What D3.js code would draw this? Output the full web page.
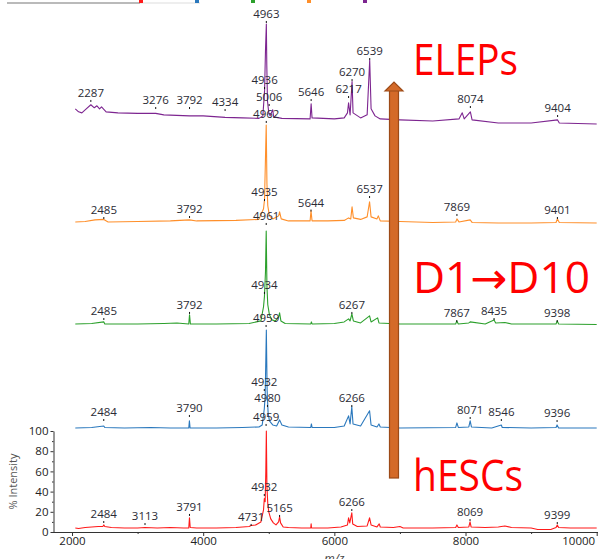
<!DOCTYPE html>
<html lang="en">
<head>
<meta charset="UTF-8">
<title>Spectra: hESCs to ELEPs</title>
<script src="https://d3js.org/d3.v7.min.js"></script>
<style>
  body { margin: 0; background: #fff; }
  svg { display: block; font-family: "Open Sans", "DejaVu Sans", sans-serif; }
  .pk { font-size: 11.5px; fill: #2b2b35; }
  .axis text { font-size: 11.5px; fill: #222; font-family: "Open Sans", sans-serif; }
  .axis line, .axis path { stroke: #333; }
</style>
</head>
<body>
<div id="chart"></div>
<script>
const width = 598;
const height = 559;

// one colour per trace, bottom to top
const names = ["hESCs", "D1", "D4", "D10", "ELEPs"];
const colors = ["#ff1a1a", "#2a78bd", "#2ca02c", "#ff8f2a", "#7d2590"];
// each trace sits this many % above the one below
const offsets = [0, 100, 203, 305, 407];

// [m/z, % intensity]
const redPts = [[2050,4],[2100,3.5],[2200,4.5],[2300,5],[2400,5.5],[2470,5.5],[2484,7],[2500,5.5],[2600,4.5],[2800,4],[3000,4],[3113,4.5],[3300,4],[3500,4.5],[3700,4],[3780,4],[3791,14],[3802,4.5],[3900,4],[4200,4],[4500,4.5],[4700,5.5],[4731,6.5],[4800,7],[4880,10],[4920,22],[4932,33],[4945,30],[4955,60],[4963,100],[4972,45],[4985,28],[5000,20],[5030,13],[5070,9],[5110,7],[5150,10],[5165,15],[5180,9],[5220,5],[5300,4.5],[5500,4],[5640,4],[5646,8],[5652,4],[5900,4],[6100,5],[6200,7],[6217,14],[6235,9],[6266,19],[6280,8],[6350,5.5],[6500,6],[6537,14],[6560,7],[6650,5],[6684,8],[6700,5],[6900,4.5],[7000,5.5],[7050,4],[7500,4],[7850,4.5],[7869,7],[7890,4.5],[8050,5],[8069,10],[8085,5],[8300,4.5],[8500,5],[8546,5.5],[8600,6],[8700,4.5],[9000,4],[9100,2.5],[9300,2.5],[9380,4.5],[9399,7],[9420,4.5],[9600,4],[10000,4]];
const bluePts = [[2050,3],[2300,3.5],[2484,5],[2500,3.5],[2800,3],[3200,3.5],[3500,3],[3780,3],[3790,10],[3800,3],[4200,3],[4600,3.5],[4850,4],[4900,6],[4932,22],[4945,35],[4955,70],[4963,100],[4975,40],[4990,18],[5010,10],[5060,6],[5120,5],[5165,11],[5200,6],[5300,4],[5640,3.5],[5650,7],[5660,3.5],[6000,3.5],[6150,5],[6217,15],[6240,7],[6266,24],[6285,7],[6400,5],[6537,20],[6560,6],[6650,4],[6680,7],[6700,4],[7000,3],[7850,3.5],[7869,8],[7890,3.5],[8050,4],[8071,10],[8090,4],[8400,3],[8546,6],[8560,3.5],[9000,3],[9380,3.5],[9396,6],[9420,3],[10000,3]];
const greenPts = [[2050,3],[2300,3.5],[2485,5],[2500,3],[3000,3],[3400,3.5],[3600,4],[3780,3],[3792,12],[3805,3],[4200,3],[4700,3.5],[4880,6],[4920,20],[4934,30],[4950,55],[4961,95],[4972,40],[4985,22],[5010,12],[5050,7],[5100,6],[5150,10],[5165,14],[5185,6],[5250,3.5],[5640,3],[5650,5],[5660,3],[6000,3.5],[6150,5],[6217,8],[6240,6],[6267,13],[6290,6],[6400,4],[6537,11],[6560,5],[6660,9],[6680,4],[7000,3],[7850,3],[7867,6],[7890,3],[8050,4],[8071,5],[8300,3],[8435,7],[8460,4],[8600,4.5],[8700,3],[9000,3],[9380,3],[9398,6],[9420,3],[10000,2.5]];
const orangePts = [[2050,2],[2200,2.5],[2350,4],[2485,4.5],[2550,2],[3000,2.5],[3500,3],[3792,4],[3900,3],[4500,3.5],[4850,4.5],[4920,15],[4935,24],[4948,60],[4961,98],[4972,40],[4985,18],[5010,8],[5060,5],[5150,8],[5165,12],[5190,5],[5300,3],[5630,3],[5644,13],[5660,3],[5900,3],[6150,3.5],[6217,6],[6250,5],[6270,17],[6290,6],[6400,4.5],[6500,7],[6537,22],[6560,7],[6650,5],[6670,8],[6700,3],[7000,2.5],[7500,1.5],[7850,2],[7869,5],[7900,2],[8071,4],[8100,1.5],[8500,1],[9000,1],[9380,1.5],[9401,5],[9430,1.5],[10000,1]];
const purplePts = [[2050,12],[2100,9],[2150,8],[2200,11],[2287,16],[2340,13],[2380,15],[2420,12],[2450,14],[2520,9],[2700,8],[3000,7.5],[3276,7.5],[3400,6],[3792,5],[4000,5],[4334,3.5],[4600,3],[4850,2.5],[4910,5],[4936,30],[4950,70],[4963,96],[4970,55],[4980,20],[5000,8],[5020,5],[5060,11],[5075,4],[5200,2.5],[5630,2],[5646,17],[5660,3],[6000,2],[6150,3],[6200,8],[6217,18],[6240,6],[6270,39],[6285,8],[6400,3],[6500,6],[6539,60],[6560,12],[6620,5],[6700,2],[7000,1],[7500,0],[7900,2],[7950,8],[7980,2],[8074,9],[8100,1],[8500,-2],[9000,-2],[9404,1],[9430,-2],[10000,-3]];
const traces = [redPts, bluePts, greenPts, orangePts, purplePts];

// peak labels: [m/z, label height in %]
const redLabels = [[2484,17.8],[3113,15.8],[3791,24.8],[4731,14.9],[4932,44.6],[5165,23.8],[6266,29.7],[8069,19.8],[9399,16.8]];
const blueLabels = [[2484,18.8],[3790,22.8],[4932,48.5],[4980,32.7],[4959,13.9],[6266,32.7],[8071,20.8],[8546,18.8],[9396,17.8]];
const greenLabels = [[2485,15.8],[3792,21.8],[4934,41.6],[4959,8.9],[6267,21.8],[7867,13.8],[8435,15.8],[9398,13.8]];
const orangeLabels = [[2485,13.8],[3792,14.8],[4935,31.6],[4961,7.9],[5644,21.2],[6537,34.6],[7869,16.8],[9401,13.8]];
const purpleLabels = [[2287,27.7],[3276,20.7],[3792,20.7],[4334,18.7],[4963,105.9],[4936,40.5],[5006,23.7],[4962,6.9],[5646,28.6],[6217,31.6],[6270,48.4],[6539,69.2],[8074,21.7],[9404,12.8]];
const labels = [redLabels, blueLabels, greenLabels, orangeLabels, purpleLabels];

const xTicks = [2000, 4000, 6000, 8000, 10000];
const xMinor = [3000, 5000, 7000, 9000];
const yTicks = [0, 20, 40, 60, 80, 100];
const yMinor = [10, 30, 50, 70, 90];

const x = d3.scaleLinear().domain([1710, 10020]).range([53, 598]);
const y = d3.scaleLinear().domain([0, 100]).range([532, 431]);

const svg = d3.select("#chart").append("svg")
  .attr("width", width)
  .attr("height", height);

// cut-off legend strip at the very top
svg.append("line")
  .attr("x1", 7).attr("x2", 140).attr("y1", 3).attr("y2", 3)
  .attr("stroke", "#777").attr("stroke-width", 1.2);
svg.append("line")
  .attr("x1", 140).attr("x2", 200).attr("y1", 3).attr("y2", 3)
  .attr("stroke", "#ddd").attr("stroke-width", 1);
svg.selectAll(".leg")
  .data(colors)
  .join("rect")
  .attr("x", (d, i) => 139 + i * 56)
  .attr("y", -1)
  .attr("width", 4)
  .attr("height", 4)
  .attr("fill", d => d);

// spectra
const line = d3.line()
  .x(d => x(d[0]))
  .y(d => y(d[1]));

svg.selectAll(".trace")
  .data(traces)
  .join("path")
  .attr("fill", "none")
  .attr("stroke", (d, i) => colors[i])
  .attr("stroke-width", 1.1)
  .attr("stroke-linejoin", "round")
  .attr("d", (d, i) => line(d.map(p => [p[0], p[1] + offsets[i]])));

// peak labels with the little tick under each
labels.forEach((list, i) => {
  const g = svg.append("g");
  g.selectAll("text")
    .data(list)
    .join("text")
    .attr("class", "pk")
    .attr("x", d => x(d[0]))
    .attr("y", d => y(d[1] + offsets[i]) + 4)
    .attr("text-anchor", "middle")
    .text(d => d[0]);
  g.selectAll("line")
    .data(list)
    .join("line")
    .attr("x1", d => x(d[0]))
    .attr("x2", d => x(d[0]))
    .attr("y1", d => y(d[1] + offsets[i]) + 7)
    .attr("y2", d => y(d[1] + offsets[i]) + 9)
    .attr("stroke", "#111")
    .attr("stroke-width", 1);
});

// x axis
const xAxis = svg.append("g")
  .attr("class", "axis")
  .attr("transform", "translate(0,532)")
  .call(d3.axisBottom(x).tickValues(xTicks).tickSize(4).tickPadding(1).tickFormat(d3.format("d")));
xAxis.select(".domain").remove();
xAxis.selectAll(".tick text").filter(d => d === 10000)
  .attr("text-anchor", "end").attr("dx", "-2");
svg.append("g")
  .attr("class", "axis")
  .attr("transform", "translate(0,532)")
  .call(d3.axisBottom(x).tickValues(xMinor).tickSize(2).tickFormat(""))
  .select(".domain").remove();
svg.append("line")
  .attr("x1", 53).attr("x2", 598).attr("y1", 532.5).attr("y2", 532.5)
  .attr("stroke", "#333");

svg.append("text")
  .attr("x", x(6000))
  .attr("y", 563)
  .attr("text-anchor", "middle")
  .attr("font-size", "12px")
  .attr("font-style", "italic")
  .attr("fill", "#444")
  .text("m/z");

// y axis for the bottom trace
const yAxis = svg.append("g")
  .attr("class", "axis")
  .attr("transform", "translate(53.5,0)")
  .call(d3.axisLeft(y).tickValues(yTicks).tickSize(3).tickPadding(2).tickSizeOuter(0));
svg.append("g")
  .attr("class", "axis")
  .attr("transform", "translate(53.5,0)")
  .call(d3.axisLeft(y).tickValues(yMinor).tickSize(1.5).tickFormat(""))
  .select(".domain").remove();

svg.append("text")
  .attr("transform", "translate(17," + y(50) + ") rotate(-90)")
  .attr("text-anchor", "middle")
  .attr("font-size", "11px")
  .attr("fill", "#555")
  .text("% Intensity");

// orange arrow
const arrowX = 394;
svg.append("rect")
  .attr("x", arrowX - 4.5).attr("y", 89)
  .attr("width", 9).attr("height", 389)
  .attr("fill", "#d46a28").attr("stroke", "#9c4a17").attr("stroke-width", 1.2);
svg.append("path")
  .attr("d", `M${arrowX - 9},${91} L${arrowX},${82} L${arrowX + 9},${91} Z`)
  .attr("fill", "#d46a28").attr("stroke", "#9c4a17").attr("stroke-width", 1.2);

// big red captions
const captions = [
  { t: "ELEPs", yb: 75, w: 105 },
  { t: "D1\u2192D10", yb: 293, w: 177 },
  { t: "hESCs", yb: 491, w: 110 }
];
svg.selectAll(".cap")
  .data(captions)
  .join("text")
  .attr("x", 413)
  .attr("y", d => d.yb)
  .attr("font-size", "43px")
  .attr("fill", "#ff0000")
  .attr("textLength", d => d.w)
  .attr("lengthAdjust", "spacingAndGlyphs")
  .text(d => d.t);
</script>
</body>
</html>
